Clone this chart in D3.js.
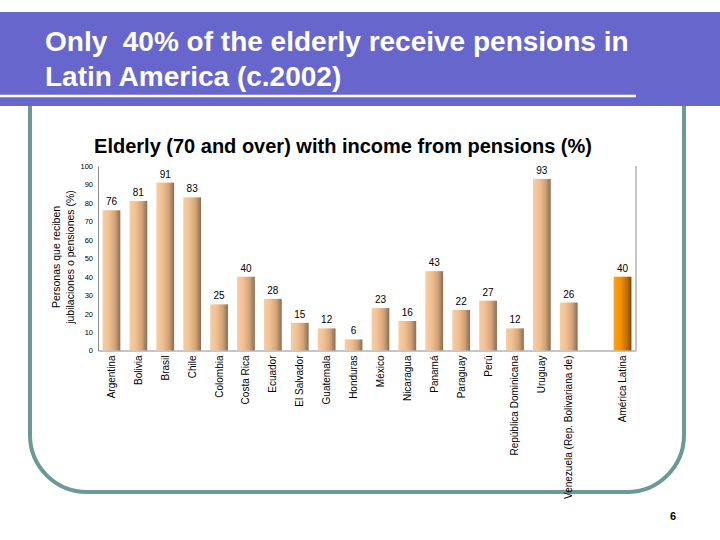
<!DOCTYPE html>
<html>
<head>
<meta charset="utf-8">
<script src="https://cdn.jsdelivr.net/npm/d3@7"></script>
<style>
  body { margin: 0; background: #fff; }
  svg { display: block; font-family: "Liberation Sans", Arial, sans-serif; }
</style>
</head>
<body>
<div id="chart"></div>
<script>
// Data
//=================================
var categories = ["Argentina", "Bolivia", "Brasil", "Chile", "Colombia", "Costa Rica",
  "Ecuador", "El Salvador", "Guatemala", "Honduras", "México", "Nicaragua", "Panamá",
  "Paraguay", "Perú", "República Dominicana", "Uruguay", "Venezuela (Rep. Bolivariana de)",
  "", "América Latina"];
var values = [76, 81, 91, 83, 25, 40, 28, 15, 12, 6, 23, 16, 43, 22, 27, 12, 93, 26, null, 40];
var yTicks = [0, 10, 20, 30, 40, 50, 60, 70, 80, 90, 100];

var svgWidth = 720;
var svgHeight = 540;

// plot box
var margin = { top: 166, left: 98, right: 84, bottom: 189.5 };
var width = svgWidth - margin.left - margin.right;
var height = svgHeight - margin.top - margin.bottom;

var svg = d3.select("#chart")
  .append("svg")
  .attr("width", svgWidth)
  .attr("height", svgHeight);

// gradients for the bars
var defs = svg.append("defs");
function addGradient(id, stops) {
  var g = defs.append("linearGradient")
    .attr("id", id)
    .attr("x1", "0%").attr("x2", "100%")
    .attr("y1", "0%").attr("y2", "0%");
  stops.forEach(function(s) {
    g.append("stop").attr("offset", s[0]).attr("stop-color", s[1]);
  });
}
addGradient("tan", [["0%", "#f7cda6"], ["35%", "#f0c090"], ["70%", "#d2a378"], ["100%", "#8a6c52"]]);
addGradient("orange", [["0%", "#ffa01a"], ["40%", "#f39200"], ["75%", "#c06e00"], ["100%", "#7a4a00"]]);

// Slide decoration
//=================================
svg.append("rect")
  .attr("x", 0).attr("y", 12)
  .attr("width", 720).attr("height", 94)
  .attr("fill", "#6666cc");

svg.append("line")
  .attr("x1", 0).attr("x2", 636)
  .attr("y1", 96).attr("y2", 96)
  .attr("stroke", "#fff")
  .attr("stroke-width", 2.5);

var titleLines = ["Only  40% of the elderly receive pensions in", "Latin America (c.2002)"];
svg.append("text")
  .attr("x", 45).attr("y", 51)
  .attr("fill", "#fff")
  .attr("font-size", 28)
  .attr("font-weight", "bold")
  .style("white-space", "pre")
  .attr("xml:space", "preserve")
  .text(titleLines[0]);
svg.append("text")
  .attr("x", 45).attr("y", 86)
  .attr("fill", "#fff")
  .attr("font-size", 28)
  .attr("font-weight", "bold")
  .text(titleLines[1]);

// rounded teal frame
var r = 57;
svg.append("path")
  .attr("d", "M30,106 V" + (492 - r) + " A" + r + "," + r + " 0 0 0 " + (30 + r) + ",492" +
    " H" + (684 - r) + " A" + r + "," + r + " 0 0 0 684," + (492 - r) + " V106")
  .attr("fill", "none")
  .attr("stroke", "#6a9996")
  .attr("stroke-width", 4);

svg.append("text")
  .attr("x", 673).attr("y", 520)
  .attr("text-anchor", "middle")
  .attr("font-size", 11)
  .attr("font-weight", "bold")
  .text("6");

// Chart
//=================================
svg.append("text")
  .attr("x", 343).attr("y", 153)
  .attr("text-anchor", "middle")
  .attr("font-size", 20)
  .attr("font-weight", "bold")
  .text("Elderly (70 and over) with income from pensions (%)");

var chartGroup = svg.append("g")
  .attr("transform", `translate(${margin.left}, ${margin.top})`);

var xBandScale = d3.scaleBand()
  .domain(categories.map((c, i) => i))
  .range([0, width])
  .paddingInner(0.34)
  .paddingOuter(0.17);

var yLinearScale = d3.scaleLinear()
  .domain([0, 100])
  .range([height, 0]);

// right border of plot
chartGroup.append("line")
  .attr("x1", width).attr("x2", width)
  .attr("y1", 0).attr("y2", height)
  .attr("stroke", "#8c8c8c");

var leftAxis = d3.axisLeft(yLinearScale)
  .tickValues(yTicks)
  .tickSize(0)
  .tickPadding(5);

var yAxis = chartGroup.append("g").call(leftAxis);
yAxis.select(".domain").attr("stroke", "#8c8c8c");
yAxis.selectAll("text")
  .attr("font-size", 7.5)
  .attr("font-family", "Liberation Sans, Arial, sans-serif")
  .attr("fill", "#000");

var bottomAxis = d3.axisBottom(xBandScale)
  .tickSize(0)
  .tickFormat(i => categories[i]);

var xAxis = chartGroup.append("g")
  .attr("transform", `translate(0, ${height})`)
  .call(bottomAxis);
xAxis.select(".domain").attr("stroke", "#8c8c8c");
xAxis.selectAll("text")
  .attr("font-size", 10)
  .attr("font-family", "Liberation Sans, Arial, sans-serif")
  .attr("fill", "#000")
  .attr("text-anchor", "end")
  .attr("dy", null)
  .attr("y", 0)
  .attr("transform", "translate(3.5, 5) rotate(-90)");

// bars
var barData = values.map((v, i) => ({ i: i, v: v })).filter(d => d.v !== null);
var last = categories.length - 1;

chartGroup.selectAll("rect.bar")
  .data(barData)
  .enter()
  .append("rect")
  .attr("class", "bar")
  .attr("x", d => xBandScale(d.i))
  .attr("y", d => yLinearScale(d.v))
  .attr("width", xBandScale.bandwidth())
  .attr("height", d => height - yLinearScale(d.v))
  .attr("fill", d => d.i === last ? "url(#orange)" : "url(#tan)");

chartGroup.selectAll("text.val")
  .data(barData)
  .enter()
  .append("text")
  .attr("class", "val")
  .attr("x", d => xBandScale(d.i) + xBandScale.bandwidth() / 2)
  .attr("y", d => yLinearScale(d.v) - 5)
  .attr("text-anchor", "middle")
  .attr("font-size", 10)
  .text(d => d.v);

// y axis title, two lines
var yTitle = ["Personas que reciben", "jubilaciones o pensiones (%)"];
yTitle.forEach(function(t, k) {
  svg.append("text")
    .attr("transform", `translate(${60 + k * 14}, 257) rotate(-90)`)
    .attr("text-anchor", "middle")
    .attr("font-size", 10.5)
    .text(t);
});
</script>
</body>
</html>
